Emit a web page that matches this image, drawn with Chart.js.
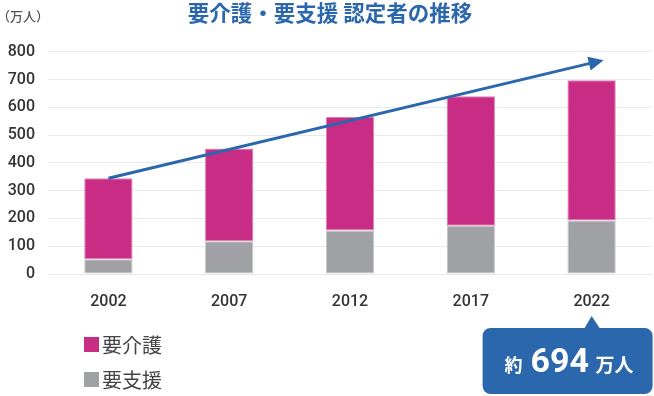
<!DOCTYPE html>
<html lang="ja">
<head>
<meta charset="utf-8">
<title>要介護・要支援 認定者の推移</title>
<script src="https://cdn.jsdelivr.net/npm/chart.js@4.4.1/dist/chart.umd.min.js"></script>
<style>
    html, body { margin: 0; padding: 0; background: #fff; }
    #wrap { position: relative; width: 654px; height: 396px; }
</style>
</head>
<body>
<div id="wrap"><canvas id="care-chart"></canvas></div>
<script>
    "use strict";

    // Data (万人)
    const years = ['2002', '2007', '2012', '2017', '2022'];
    const careNeeded = [292, 334, 408, 466, 505];    // 要介護
    const supportNeeded = [53, 118, 157, 174, 193];  // 要支援
    const yTickValues = [0, 100, 200, 300, 400, 500, 600, 700, 800];
    const trendFrom = 345;   // arrow start value (2002)
    const trendTo = 770;     // arrow end value (past 2022)
    const calloutParts = ['約', '694', '万人'];

    const BLUE = '#2B67AC';
    const JP = '"Noto Sans CJK JP", "Noto Sans", sans-serif';

    // Arrow, unit label, legend and callout
    const decorations = {
        id: 'decorations',
        afterDatasetsDraw: function (chart) {
            const ctx = chart.ctx;
            const x = chart.scales.x, y = chart.scales.y;
            const last = years.length - 1;
            const x0 = x.getPixelForValue(0), y0 = y.getPixelForValue(trendFrom);
            const x1 = x.getPixelForValue(last) + 12, y1 = y.getPixelForValue(trendTo);
            const ang = Math.atan2(y1 - y0, x1 - x0);
            const head = 15, half = 7;
            ctx.save();
            ctx.strokeStyle = BLUE;
            ctx.fillStyle = BLUE;
            ctx.lineWidth = 3;
            ctx.beginPath();
            ctx.moveTo(x0, y0);
            ctx.lineTo(x1 - Math.cos(ang) * (head - 2), y1 - Math.sin(ang) * (head - 2));
            ctx.stroke();
            const bx = x1 - Math.cos(ang) * head, by = y1 - Math.sin(ang) * head;
            ctx.beginPath();
            ctx.moveTo(x1, y1);
            ctx.lineTo(bx + Math.sin(ang) * half, by - Math.cos(ang) * half);
            ctx.lineTo(bx - Math.sin(ang) * half, by + Math.cos(ang) * half);
            ctx.closePath();
            ctx.fill();
            ctx.restore();
        },
        afterDraw: function (chart) {
            const ctx = chart.ctx;
            const x = chart.scales.x;
            ctx.save();

            // unit label
            ctx.fillStyle = '#555';
            ctx.font = '500 13px ' + JP;
            ctx.textAlign = 'left';
            ctx.textBaseline = 'middle';
            ctx.fillText('（万人）', -3, 16);

            // legend (top of stack first)
            const sets = chart.data.datasets.slice().reverse();
            sets.forEach(function (ds, i) {
                const top = 337 + i * 35;
                ctx.fillStyle = ds.backgroundColor;
                ctx.fillRect(84, top, 15, 15);
                ctx.fillStyle = '#444';
                ctx.font = '400 20px ' + JP;
                ctx.textBaseline = 'middle';
                ctx.fillText(ds.label, 102, top + 8);
            });

            // callout under the last year
            const tip = x.getPixelForValue(years.length - 1);
            const bl = tip - 109, br = tip + 61, bt = 328, bb = 394, r = 8;
            ctx.fillStyle = BLUE;
            ctx.beginPath();
            ctx.moveTo(bl + r, bt);
            ctx.lineTo(tip - 7, bt);
            ctx.lineTo(tip, bt - 12);
            ctx.lineTo(tip + 8, bt);
            ctx.lineTo(br - r, bt);
            ctx.arcTo(br, bt, br, bt + r, r);
            ctx.lineTo(br, bb - r);
            ctx.arcTo(br, bb, br - r, bb, r);
            ctx.lineTo(bl + r, bb);
            ctx.arcTo(bl, bb, bl, bb - r, r);
            ctx.lineTo(bl, bt + r);
            ctx.arcTo(bl, bt, bl + r, bt, r);
            ctx.closePath();
            ctx.fill();

            ctx.fillStyle = '#fff';
            ctx.textBaseline = 'alphabetic';
            const base = 372;
            ctx.font = 'bold 18px ' + JP;
            ctx.fillText(calloutParts[0], bl + 22, base);
            ctx.font = 'bold 34px Roboto, sans-serif';
            ctx.fillText(calloutParts[1], bl + 48, base);
            ctx.font = 'bold 19px ' + JP;
            ctx.fillText(calloutParts[2], bl + 113, base);

            ctx.restore();
        }
    };

    // Stacked bar chart
    const chartCtx = document.getElementById('care-chart').getContext('2d');
    new Chart(chartCtx, {
        type: 'bar',
        data: {
            labels: years,
            datasets: [{
                label: '要支援',
                data: supportNeeded,
                backgroundColor: '#A0A1A4',
                borderColor: '#C8C8CA',
                borderWidth: 1,
                borderSkipped: false,
                barPercentage: 0.4,
                categoryPercentage: 1
            }, {
                label: '要介護',
                data: careNeeded,
                backgroundColor: '#C82C85',
                borderColor: '#E07DB4',
                borderWidth: 1,
                borderSkipped: false,
                barPercentage: 0.4,
                categoryPercentage: 1
            }]
        },
        options: {
            responsive: true,
            maintainAspectRatio: false,
            animation: false,
            layout: { padding: { top: 0, left: 8, right: 2, bottom: 88 } },
            plugins: {
                legend: { display: false },
                tooltip: { enabled: false },
                title: {
                    display: true,
                    text: '要介護・要支援 認定者の推移',
                    color: BLUE,
                    font: { family: JP, size: 21.5, weight: 'bold' },
                    padding: { top: 0, bottom: 26 }
                }
            },
            scales: {
                x: {
                    stacked: true,
                    afterFit: function (axis) { axis.height = 34; },
                    grid: { display: false },
                    border: { display: false },
                    ticks: {
                        color: '#333',
                        padding: 10,
                        maxRotation: 0,
                        font: { family: 'Roboto', size: 16, weight: '500' }
                    }
                },
                y: {
                    stacked: true,
                    min: yTickValues[0],
                    max: yTickValues[yTickValues.length - 1],
                    afterBuildTicks: function (axis) {
                        axis.ticks = yTickValues.map(function (v) { return { value: v }; });
                    },
                    afterFit: function (axis) { axis.width = 40; },
                    grid: { color: '#E5EAF0', lineWidth: 1, drawTicks: false },
                    border: { display: false },
                    ticks: {
                        color: '#333',
                        padding: 13,
                        font: { family: 'Roboto', size: 16, weight: '500' }
                    }
                }
            }
        },
        plugins: [decorations]
    });
</script>
</body>
</html>
